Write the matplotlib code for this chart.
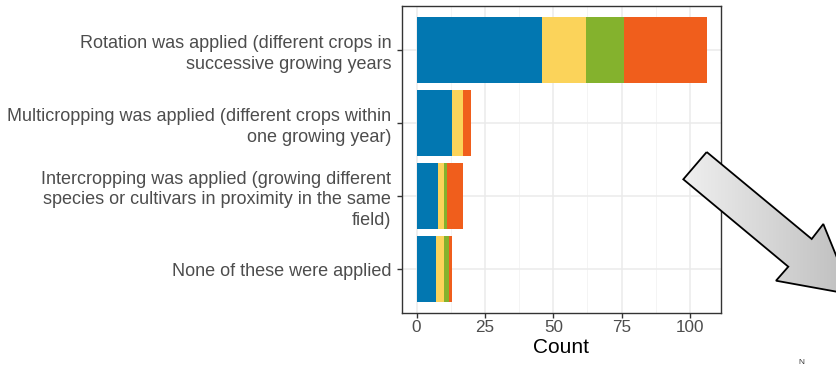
import numpy as np
import matplotlib
matplotlib.use('Agg')
import matplotlib.pyplot as plt
from matplotlib.patches import Polygon
from matplotlib.colors import LinearSegmentedColormap

# categories (top to bottom) and stacked counts per colour group
categories = [
    'Rotation was applied (different crops in\nsuccessive growing years',
    'Multicropping was applied (different crops within\none growing year)',
    'Intercropping was applied (growing different\nspecies or cultivars in proximity in the same\nfield)',
    'None of these were applied',
]
blue_vals = [46, 13, 8, 7]
yellow_vals = [16, 4, 2, 3]
green_vals = [14, 0, 1, 2]
orange_vals = [30, 3, 6, 1]

series = [blue_vals, yellow_vals, green_vals, orange_vals]
colors = ['#0277b1', '#fbd35a', '#84b22d', '#f05e1c']
xticks = [0, 25, 50, 75, 100]

plt.rcParams['font.family'] = ['Liberation Sans', 'DejaVu Sans']

W, H = 836, 366
fig = plt.figure(figsize=(W / 100, H / 100), dpi=100)
ax = fig.add_axes([402 / W, 1 - 313 / H, (721 - 402) / W, (313 - 6) / H])

ypos = np.arange(len(categories))
left = np.zeros(len(categories))
for vals, c in zip(series, colors):
    ax.barh(ypos, vals, left=left, height=0.9, color=c, zorder=3)
    left += np.array(vals)

total_max = left.max()
ax.set_xlim(-0.05 * total_max, total_max * 1.05)
ax.set_ylim(len(categories) - 0.4, -0.6)

ax.set_xticks(xticks)
ax.set_xticks([12.5, 37.5, 62.5, 87.5], minor=True)
ax.set_yticks(ypos)
ax.set_yticklabels(categories, linespacing=1.3)
ax.tick_params(axis='y', labelsize=12.95, pad=4.5)
ax.tick_params(axis='x', labelsize=12.3, pad=2)
ax.grid(which='major', color='#ebebeb', lw=1.1, zorder=0)
ax.grid(which='minor', axis='x', color='#f2f2f2', lw=0.6, zorder=0)
ax.tick_params(which='major', length=3.3, width=1.0, color='#333333',
               labelcolor='#4d4d4d')
ax.tick_params(which='minor', length=0)
for s in ax.spines.values():
    s.set_color('#333333')
    s.set_linewidth(1.0)
ax.set_xlabel('Count', fontsize=15, color='black', labelpad=2)

# grey arrow overlay on the right
ov = fig.add_axes([0, 0, 1, 1], zorder=10)
ov.set_xlim(0, W)
ov.set_ylim(H, 0)
ov.axis('off')
pts = [(706.7, 152), (683.3, 179.3), (788.3, 266.7), (776, 280.7),
       (852, 294.5), (823.3, 224), (811.7, 239)]
poly = Polygon(pts, closed=True, facecolor='none', edgecolor='black', lw=1.3, zorder=3)
ov.add_patch(poly)
grad = np.linspace(0, 1, 256).reshape(1, -1)
cmap = LinearSegmentedColormap.from_list('g', ['#f0f0f0', '#bdbdbd'])
img = ov.imshow(grad, extent=[680, 855, 295, 150], cmap=cmap, aspect='auto', zorder=2)
img.set_clip_path(poly)
ov.set_xlim(0, W)
ov.set_ylim(H, 0)
ov.text(801, 365.5, 'N', fontsize=6, color='#333333', ha='center', va='bottom')

fig.savefig('out.png', dpi=100)
